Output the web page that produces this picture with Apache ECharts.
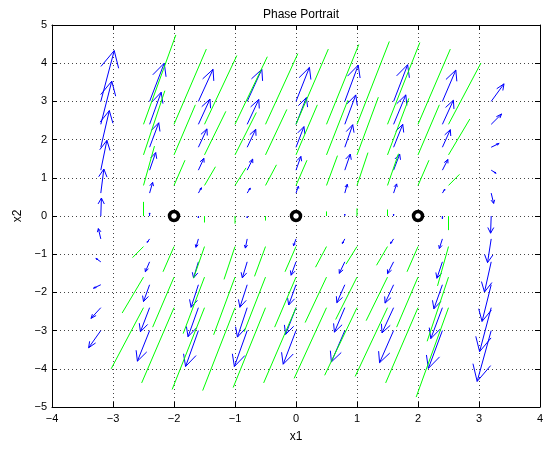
<!DOCTYPE html>
<html><head><meta charset="utf-8">
<script src="https://cdn.jsdelivr.net/npm/echarts@6/dist/echarts.min.js"></script>
<style>html,body{margin:0;padding:0;background:#fff}#c{width:549px;height:453px}</style>
</head><body><div id="c"></div>
<script>
// Tick values
const xTicks = [-4, -3, -2, -1, 0, 1, 2, 3, 4];
const yTicks = [-5, -4, -3, -2, -1, 0, 1, 2, 3, 4, 5];

// Blue quiver (grid columns / rows, displayed vector components)
const blueX = [-3.2, -2.4, -1.6, -0.8, 0, 0.8, 1.6, 2.4, 3.2];
const blueY = [-3.0, -2.4, -1.8, -1.2, -0.6, 0, 0.6, 1.2, 1.8, 2.4, 3.0];
const blueU = [
  [-0.20, -0.20, -0.21, -0.21, -0.21, -0.22, -0.23, -0.23, -0.23],
  [-0.16, -0.15, -0.17, -0.16, -0.17, -0.17, -0.19, -0.19, -0.19],
  [-0.12, -0.10, -0.12, -0.12, -0.12, -0.13, -0.14, -0.14, -0.15],
  [-0.08, -0.07, -0.08, -0.08, -0.08, -0.09, -0.10, -0.09, -0.11],
  [-0.04, -0.04, -0.04, -0.03, -0.04, -0.04, -0.05, -0.05, -0.06],
  [ 0.01,  0.00,  0.00,  0.00,  0.00,  0.00,  0.00,  0.00, -0.01],
  [ 0.05,  0.05,  0.05,  0.05,  0.04,  0.04,  0.05,  0.04,  0.04],
  [ 0.10,  0.10,  0.09,  0.09,  0.08,  0.09,  0.10,  0.09,  0.08],
  [ 0.14,  0.15,  0.14,  0.14,  0.13,  0.13,  0.15,  0.13,  0.13],
  [ 0.18,  0.19,  0.19,  0.19,  0.17,  0.18,  0.20,  0.18,  0.17],
  [ 0.22,  0.24,  0.24,  0.24,  0.22,  0.22,  0.23,  0.22,  0.21]
];
const blueV = [
  [-0.45, -0.80, -0.94, -0.94, -0.88, -0.82, -0.84, -0.99, -1.33],
  [-0.28, -0.63, -0.76, -0.77, -0.70, -0.64, -0.66, -0.81, -1.15],
  [-0.09, -0.44, -0.59, -0.59, -0.53, -0.47, -0.48, -0.63, -0.96],
  [ 0.09, -0.26, -0.42, -0.42, -0.35, -0.30, -0.31, -0.43, -0.79],
  [ 0.27, -0.09, -0.22, -0.24, -0.18, -0.12, -0.12, -0.25, -0.62],
  [ 0.47,  0.08, -0.05, -0.05,  0.00,  0.05,  0.05, -0.07, -0.45],
  [ 0.63,  0.28,  0.14,  0.13,  0.18,  0.23,  0.24,  0.10, -0.27],
  [ 0.78,  0.46,  0.31,  0.29,  0.36,  0.42,  0.42,  0.28, -0.08],
  [ 0.96,  0.64,  0.48,  0.47,  0.54,  0.59,  0.60,  0.46,  0.10],
  [ 1.13,  0.84,  0.66,  0.65,  0.70,  0.77,  0.77,  0.63,  0.27],
  [ 1.33,  1.00,  0.84,  0.84,  0.89,  0.95,  0.96,  0.82,  0.46]
];

// Green headless segments
const greenX = [-2.5, -2, -1.5, -1, -0.5, 0, 0.5, 1, 1.5, 2, 2.5];
const greenY = [-2.4, -1.6, -0.8, 0, 0.8, 1.6, 2.4];
const greenU = [-0.53, -0.35, -0.18, 0, 0.18, 0.35, 0.53];
const greenV = [
  [-1.60, -1.97, -2.14, -2.17, -2.09, -1.97, -1.85, -1.77, -1.80, -1.97, -2.34],
  [-0.94, -1.31, -1.48, -1.51, -1.43, -1.31, -1.19, -1.11, -1.14, -1.31, -1.68],
  [-0.29, -0.66, -0.83, -0.86, -0.78, -0.66, -0.54, -0.46, -0.49, -0.66, -1.03],
  [ 0.37,  0.00, -0.17, -0.20, -0.12,  0.00,  0.12,  0.20,  0.17,  0.00, -0.37],
  [ 1.03,  0.66,  0.49,  0.46,  0.54,  0.66,  0.78,  0.86,  0.83,  0.66,  0.29],
  [ 1.68,  1.31,  1.14,  1.11,  1.19,  1.31,  1.43,  1.51,  1.48,  1.31,  0.94],
  [ 2.34,  1.97,  1.80,  1.77,  1.85,  1.97,  2.09,  2.17,  2.14,  1.97,  1.60]
];

// Equilibrium markers
const eqX = [-2, 0, 2];
const eqY = [0, 0, 0];

const blueData = [];
blueY.forEach((y, i) => blueX.forEach((x, j) => {
  const u = blueU[i][j], v = blueV[i][j];
  if (u !== 0 || v !== 0) blueData.push([x, y, u, v]);
}));
const greenData = [];
greenY.forEach((y, i) => greenX.forEach((x, j) => {
  greenData.push([x, y, greenU[i], greenV[i][j]]);
}));
const eqData = eqX.map((x, i) => [x, eqY[i]]);

const fmt = v => (v < 0 ? '\u2212' + Math.abs(v) : String(v));
const FONT = 'Liberation Sans, Arial, Helvetica, sans-serif';

function arrowItem(params, api) {
  const x = api.value(0), y = api.value(1), u = api.value(2), v = api.value(3);
  const a = 0.33, b = 0.33;
  const p0 = api.coord([x, y]);
  const p1 = api.coord([x + u, y + v]);
  const h1 = api.coord([x + u - a * (u + b * v), y + v - a * (v - b * u)]);
  const h2 = api.coord([x + u - a * (u - b * v), y + v - a * (v + b * u)]);
  const st = { stroke: '#0000ff', lineWidth: 1, fill: null };
  return { type: 'group', children: [
    { type: 'polyline', shape: { points: [p0, p1] }, style: st },
    { type: 'polyline', shape: { points: [h1, p1, h2] }, style: st }
  ]};
}
function segItem(params, api) {
  const x = api.value(0), y = api.value(1), u = api.value(2), v = api.value(3);
  const p0 = api.coord([x, y]);
  const p1 = api.coord([x + u, y + v]);
  return { type: 'polyline', shape: { points: [p0, p1] },
    style: { stroke: '#00ff00', lineWidth: 1, fill: null } };
}

const chart = echarts.init(document.getElementById('c'), null, { renderer: 'canvas' });
const axisCommon = {
  type: 'value',
  axisLine: { show: true, onZero: false, lineStyle: { color: '#000', width: 1 } },
  axisTick: { show: true, inside: true, length: 5, lineStyle: { color: '#000' } }
};
chart.setOption({
  animation: false,
  backgroundColor: '#fff',
  title: { text: 'Phase Portrait', left: 296, top: 4, textAlign: 'center',
    textStyle: { fontSize: 12, fontWeight: 'normal', color: '#000', fontFamily: FONT } },
  grid: { left: 52, right: 9, top: 25, bottom: 46, containLabel: false },
  xAxis: [
    Object.assign({}, axisCommon, {
      min: xTicks[0], max: xTicks[xTicks.length - 1], interval: 1, position: 'bottom',
      axisLabel: { color: '#000', fontSize: 11, margin: 6, fontFamily: FONT, formatter: fmt },
      splitLine: { show: true, lineStyle: { type: [1, 3], color: '#444', width: 1 } },
      name: 'x1', nameLocation: 'middle', nameGap: 24,
      nameTextStyle: { color: '#000', fontSize: 12, fontFamily: FONT }
    }),
    Object.assign({}, axisCommon, {
      min: xTicks[0], max: xTicks[xTicks.length - 1], interval: 1, position: 'top',
      axisLabel: { show: false }, splitLine: { show: false }
    })
  ],
  yAxis: [
    Object.assign({}, axisCommon, {
      min: yTicks[0], max: yTicks[yTicks.length - 1], interval: 1, position: 'left',
      axisLabel: { color: '#000', fontSize: 11, margin: 5, fontFamily: FONT, formatter: fmt },
      splitLine: { show: true, lineStyle: { type: [1, 3], color: '#444', width: 1 } },
      name: 'x2', nameLocation: 'middle', nameGap: 28,
      nameTextStyle: { color: '#000', fontSize: 12, fontFamily: FONT }
    }),
    Object.assign({}, axisCommon, {
      min: yTicks[0], max: yTicks[yTicks.length - 1], interval: 1, position: 'right',
      axisLabel: { show: false }, splitLine: { show: false }
    })
  ],
  series: [
    { type: 'custom', name: 'quiver', xAxisIndex: 0, yAxisIndex: 0, clip: true,
      renderItem: arrowItem, data: blueData, z: 2 },
    { type: 'custom', name: 'segments', xAxisIndex: 0, yAxisIndex: 0, clip: true,
      renderItem: segItem, data: greenData, z: 3 },
    { type: 'scatter', name: 'equilibria', xAxisIndex: 0, yAxisIndex: 0, data: eqData,
      symbol: 'circle', symbolSize: 9, z: 5,
      itemStyle: { color: '#fff', borderColor: '#000', borderWidth: 3.5, opacity: 1 } }
  ]
});
</script>
</body></html>
